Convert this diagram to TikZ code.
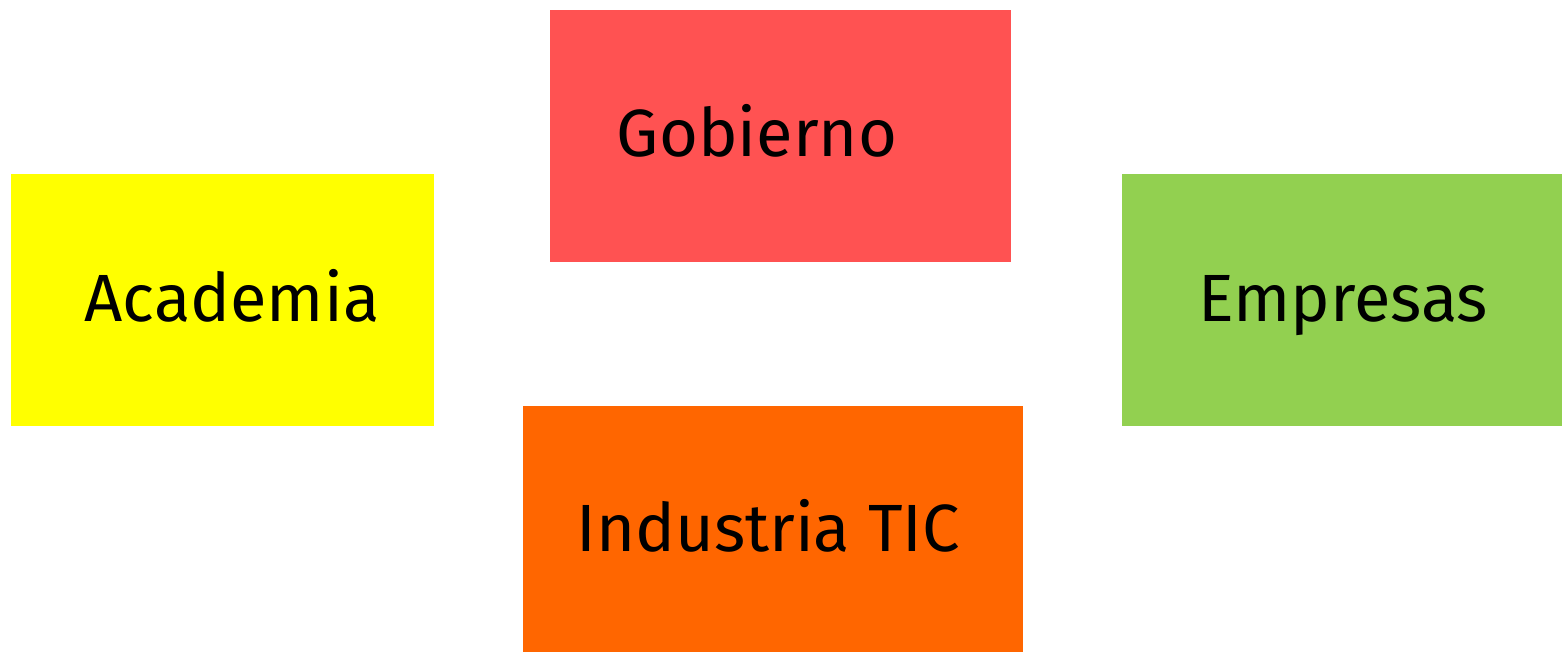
\documentclass[tikz,border=0pt]{standalone}
\usepackage{fontspec}
\setmainfont{Fira Sans}
\usepackage{tikz}
\definecolor{gobiernored}{HTML}{FF5252}
\definecolor{academiayellow}{HTML}{FFFF00}
\definecolor{empresasgreen}{HTML}{92D050}
\definecolor{industriaorange}{HTML}{FF6600}

\begin{document}
\begin{tikzpicture}[x=0.01cm,y=-0.01cm,
    sector/.style={rectangle,inner sep=0pt,anchor=north west},
    sectorname/.style={font=\fontsize{19}{23}\selectfont,anchor=base,inner sep=0pt}]
    \useasboundingbox (0,0) rectangle (1562,652);

    % the four boxes
    \node[sector,fill=gobiernored,minimum width=4.61cm,minimum height=2.52cm]
      (gobierno) at (549,9) {};
    \node[sector,fill=academiayellow,minimum width=4.23cm,minimum height=2.52cm]
      (academia) at (10,173) {};
    \node[sector,fill=empresasgreen,minimum width=4.41cm,minimum height=2.52cm]
      (empresas) at (1121,173) {};
    \node[sector,fill=industriaorange,minimum width=5.00cm,minimum height=2.47cm]
      (industria) at (522,405) {};

    % their names
    \node[sectorname] (gobiernoname) at (757,157) {Gobierno};
    \node[sectorname] (academianame) at (232,322) {Academia};
    \node[sectorname] (empresasname) at (1343,322) {Empresas};
    \node[sectorname] (industrianame) at (768,552) {Industria TIC};
\end{tikzpicture}
\end{document}
